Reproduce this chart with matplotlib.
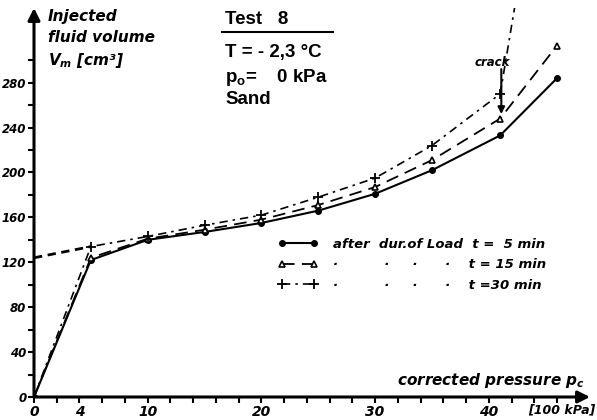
import matplotlib
matplotlib.use("Agg")
import matplotlib.pyplot as plt
from matplotlib.lines import Line2D

plt.rcParams['mathtext.fontset'] = 'custom'
plt.rcParams['mathtext.bf'] = 'DejaVu Sans:italic:bold'
plt.rcParams['mathtext.rm'] = 'Liberation Sans:bold'

# ---- data (pressure in 100 kPa, volume in cm^3) ----
p_5 = [0, 5, 10, 15, 20, 25, 30, 35, 41, 46]
v_5 = [0, 122, 140, 147, 155, 166, 181, 202, 233, 284]
p_15 = [0, 5, 10, 15, 20, 25, 30, 35, 41, 46]
v_15 = [0, 124, 141, 149, 158, 171, 187, 211, 248, 313]
p_30 = [0, 5, 10, 15, 20, 25, 30, 35, 41, 42.9]
v_30 = [0, 134, 143, 153, 162, 178, 195, 224, 270, 385]
p_ext = [0, 5]
v_ext = [124, 134]

x_ticks = list(range(0, 48, 2))
x_tick_labels = ['0', '', '4', '', '', '10', '', '', '', '', '20', '', '', '', '', '30',
                 '', '', '', '', '40', '', '', '']
y_ticks = list(range(0, 301, 20))
y_tick_labels = ['0', '', '40', '', '80', '', '120', '', '160', '', '200', '', '240', '', '280', '']

labels = ['after  dur.of Load  t =  5 min',
          '·          ·     ·      ·    t = 15 min',
          '·          ·     ·      ·    t =30 min']

hand = dict(family='DejaVu Sans', style='italic', weight='bold')
block = dict(family='Liberation Sans', weight='bold')

fig = plt.figure(figsize=(5.97, 4.2), dpi=100)
W, H = 597, 420
ax = fig.add_axes([34 / W, 23 / H, (590 - 34) / W, (397 - 8) / H])
xmax, ymax = 48.9, 346.5
ax.set_xlim(0, xmax)
ax.set_ylim(0, ymax)
for s in ax.spines.values():
    s.set_visible(False)

# axes with arrows
ax.annotate('', xy=(xmax, 0), xytext=(0, 0), annotation_clip=False,
            arrowprops=dict(arrowstyle='-|>', lw=2.2, color='black', mutation_scale=18,
                            shrinkA=0, shrinkB=0))
ax.annotate('', xy=(0, ymax), xytext=(0, 0), annotation_clip=False,
            arrowprops=dict(arrowstyle='-|>', lw=2.2, color='black', mutation_scale=18,
                            shrinkA=0, shrinkB=0))

ax.set_xticks(x_ticks)
ax.set_xticklabels(x_tick_labels, fontsize=10, **hand)
ax.set_yticks(y_ticks)
ax.set_yticklabels(y_tick_labels, fontsize=8.5, **hand)
ax.tick_params(axis='both', direction='out', length=4, width=1.5, pad=1.5)

# series
l5, = ax.plot(p_5, v_5, color='black', lw=1.5, marker='o', ms=4, mfc='black',
              label=labels[0], clip_on=True)
l15, = ax.plot(p_15, v_15, color='black', lw=1.3, ls=(0, (7, 4)), marker='^', ms=4.5,
               mfc='white', mew=1.2, label=labels[1])
l30, = ax.plot(p_30, v_30, color='black', lw=1.2, ls=(0, (5, 3, 1.5, 3)), marker='+', ms=7,
               mew=1.3, label=labels[2])
ax.plot(p_ext, v_ext, color='black', lw=2, ls=(0, (3, 2)))

# crack annotation
ax.text(40.3, 298, 'crack', ha='center', va='center', fontsize=8.5, **hand)
ax.annotate('', xy=(41.1, 252), xytext=(41.1, 292),
            arrowprops=dict(arrowstyle='-|>', lw=1.5, color='black', mutation_scale=10,
                            shrinkA=0, shrinkB=0))

leg = ax.legend(handles=[l5, l15, l30], loc='upper left',
                bbox_to_anchor=((278 - 34) / 556, (397 - 238) / 389),
                frameon=False, numpoints=2, handlelength=3.0, handletextpad=1.2,
                labelspacing=0.55, prop=dict(size=9.5, **hand), borderaxespad=0,
                borderpad=0)

# axis titles
fig.text(48 / W, 1 - 17 / H, 'Injected', fontsize=11, va='center', ha='left', **hand)
fig.text(48 / W, 1 - 38 / H, 'fluid volume', fontsize=11, va='center', ha='left', **hand)
fig.text(48 / W, 1 - 60 / H, r'$\mathbf{V_m}$ [cm³]', fontsize=11, va='center', ha='left', **hand)
fig.text(585 / W, 1 - 380 / H, r'corrected pressure $\mathbf{p_c}$', fontsize=11,
         va='center', ha='right', **hand)
fig.text(595 / W, 1 - 410 / H, '[100 kPa]', fontsize=9, va='center', ha='right', **hand)

# info block
fig.text(225 / W, 1 - 20 / H, 'Test   8', fontsize=13.5, va='center', ha='left', **block)
fig.add_artist(Line2D([222 / W, 333 / W], [1 - 32 / H, 1 - 32 / H], color='black', lw=1.5))
fig.text(225 / W, 1 - 52 / H, 'T = - 2,3 °C', fontsize=13.5, va='center', ha='left', **block)
fig.text(225 / W, 1 - 77 / H, r'$\mathrm{p_o}$=    0 kPa', fontsize=13.5, va='center', ha='left', **block)
fig.text(225 / W, 1 - 100 / H, 'Sand', fontsize=13.5, va='center', ha='left', **block)

fig.savefig('out.png', dpi=100)
